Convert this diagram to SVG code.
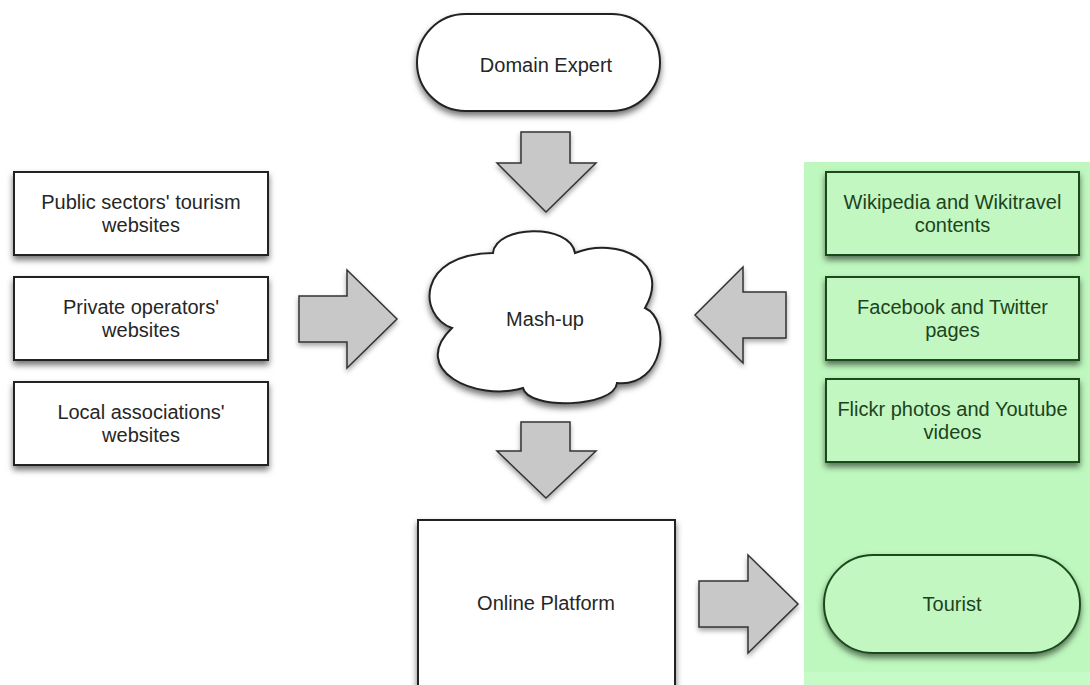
<svg xmlns="http://www.w3.org/2000/svg" width="1090" height="685" viewBox="0 0 1090 685">
<defs>
<filter id="sh" x="-20%" y="-20%" width="140%" height="150%">
<feDropShadow dx="0" dy="4" stdDeviation="3" flood-color="#000" flood-opacity="0.55"/>
</filter>
<filter id="sha" x="-20%" y="-20%" width="140%" height="150%">
<feDropShadow dx="0" dy="3" stdDeviation="2.5" flood-color="#000" flood-opacity="0.35"/>
</filter>
</defs>
<style>
.box{fill:#fff;stroke:#222;stroke-width:2;filter:url(#sh)}
.gbox{fill:#c2f7c2;stroke:#1d4a1d;stroke-width:2;filter:url(#sh)}
.arr{fill:#c8c8c8;stroke:#333;stroke-width:1.5;stroke-linejoin:miter;filter:url(#sha)}
.t{font-family:"Liberation Sans",Arial,sans-serif;font-size:20px;fill:#262626;text-anchor:middle}
.gt{font-family:"Liberation Sans",Arial,sans-serif;font-size:20px;fill:#1d431d;text-anchor:middle}
</style>
<rect width="1090" height="685" fill="#fff"/>
<rect id="panel" x="804" y="162" width="286" height="523" fill="#bef8be"/>
<rect x="804" y="672" width="286" height="13" fill="#c6fac6"/>

<g id="connectors">
<path class="arr" d="M521,132 H570 V163 H596 L546,212 L497,163 H521 Z"/>
<path class="arr" d="M521,422 H570 V451 H596 L546,498 L497,451 H521 Z"/>
<path class="arr" d="M299,296 H347 V270 L397,319 L347,368 V342 H299 Z"/>
<path class="arr" d="M786,292 H743 V267 L695,315 L743,363 V338 H786 Z"/>
<path class="arr" d="M699,581 H748 V555 L798,604 L748,653 V627 H699 Z"/>
</g>

<g id="domain-expert">
<rect class="box" x="417" y="14" width="243" height="97" rx="48.5"/>
<text class="t" x="546" y="72">Domain Expert</text>
</g>

<g id="public-sectors">
<rect class="box" x="14" y="172" width="254" height="83"/>
<text class="t" x="141" y="209">Public sectors' tourism</text>
<text class="t" x="141" y="232">websites</text>
</g>
<g id="private-operators">
<rect class="box" x="14" y="277" width="254" height="83"/>
<text class="t" x="141" y="314">Private operators'</text>
<text class="t" x="141" y="337">websites</text>
</g>
<g id="local-associations">
<rect class="box" x="14" y="382" width="254" height="83"/>
<text class="t" x="141" y="419">Local associations'</text>
<text class="t" x="141" y="442">websites</text>
</g>

<g id="mash-up">
<path class="box" d="M452,328 C418,316 416,254 493,253 C496,225 570,223 575,253 C618,236 672,262 645,308 C672,320 664,388 617,383 C614,408 528,410 523,388 C476,402 408,370 452,328 Z"/>
<text class="t" x="545" y="326">Mash-up</text>
</g>

<g id="wikipedia">
<rect class="gbox" x="826" y="172" width="253" height="83"/>
<text class="gt" x="952.5" y="209">Wikipedia and Wikitravel</text>
<text class="gt" x="952.5" y="232">contents</text>
</g>
<g id="facebook">
<rect class="gbox" x="826" y="277" width="253" height="83"/>
<text class="gt" x="952.5" y="314">Facebook and Twitter</text>
<text class="gt" x="952.5" y="337">pages</text>
</g>
<g id="flickr">
<rect class="gbox" x="826" y="379" width="253" height="83"/>
<text class="gt" x="952.5" y="416">Flickr photos and Youtube</text>
<text class="gt" x="952.5" y="439">videos</text>
</g>

<g id="online-platform">
<rect class="box" x="418" y="520" width="257" height="180"/>
<text class="t" x="546" y="610">Online Platform</text>
</g>

<g id="tourist">
<rect class="gbox" x="824" y="555" width="256" height="98" rx="49"/>
<text class="gt" x="952" y="611">Tourist</text>
</g>
</svg>
